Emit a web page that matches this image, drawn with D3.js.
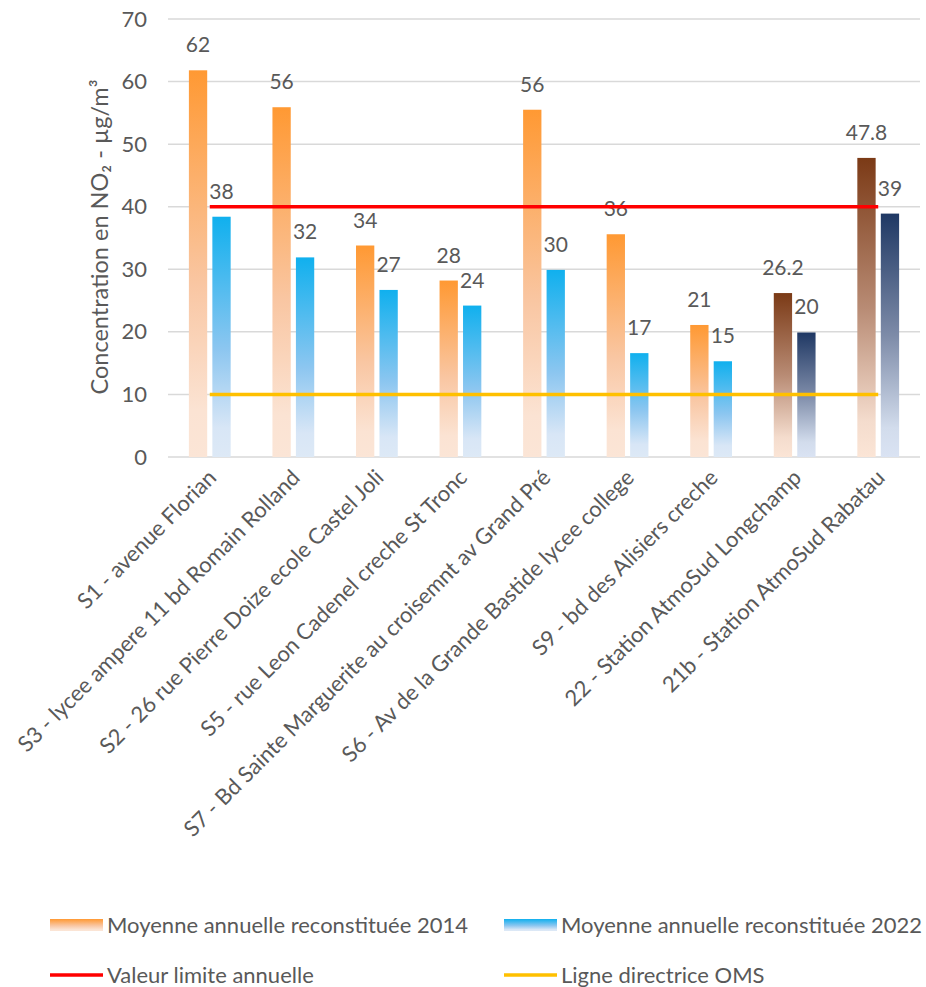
<!DOCTYPE html>
<html><head><meta charset="utf-8">
<script src="https://cdn.jsdelivr.net/npm/d3@7"></script>
<style>body{margin:0;background:#fff}svg{display:block}text{font-family:Lato,"Open Sans",sans-serif;fill:#595959}</style>
</head><body>
<svg id="c" width="926" height="987"></svg>
<script>
const categories = ["S1 - avenue Florian","S3 - lycee ampere 11 bd Romain Rolland","S2 - 26 rue Pierre Doize ecole Castel Joli","S5 - rue Leon Cadenel creche St Tronc","S7 - Bd Sainte Marguerite au croisemnt av Grand Pré","S6 - Av de la Grande Bastide lycee college","S9 - bd des Alisiers creche","22 - Station AtmoSud Longchamp","21b - Station AtmoSud Rabatau"];
const values2014 = [61.8, 55.9, 33.8, 28.2, 55.5, 35.6, 21.1, 26.2, 47.8];
const labels2014 = ["62","56","34","28","56","36","21","26.2","47.8"];
const values2022 = [38.4, 31.9, 26.7, 24.2, 29.9, 16.6, 15.3, 19.9, 38.9];
const labels2022 = ["38","32","27","24","30","17","15","20","39"];
const limitValues = [40,40,40,40,40,40,40,40,40];
const omsValues = [10,10,10,10,10,10,10,10,10];
const yTicks = [0,10,20,30,40,50,60,70];
const seriesNames = ["Moyenne annuelle reconstituée 2014","Moyenne annuelle reconstituée 2022","Valeur limite annuelle","Ligne directrice OMS"];
const stationIdx = [7,8]; // AtmoSud stations, drawn in darker tones

const svg = d3.select("#c");
const L = 168, R = 920, T = 19, B = 457;
const y = d3.scaleLinear().domain([0,70]).range([B,T]);
const x0 = d3.scaleBand().domain(categories).range([L,R]).paddingInner(0.5).paddingOuter(0.25);
const x1 = d3.scaleBand().domain(["2014","2022"]).range([0,x0.bandwidth()]).paddingInner(0.22);

const defs = svg.append("defs");
function grad(id, stops){
  const g = defs.append("linearGradient").attr("id",id).attr("x1",0).attr("y1",0).attr("x2",0).attr("y2",1);
  stops.forEach(s=>g.append("stop").attr("offset",s[0]).attr("stop-color",s[1]));
}
grad("gOr",[[0,"#ff9933"],[0.55,"#f9c6a2"],[0.88,"#fbe3d3"],[1,"#fbe5d6"]]);
grad("gBl",[[0,"#10b0ee"],[0.55,"#8cc6f0"],[0.88,"#d8e6f6"],[1,"#dde9f6"]]);
grad("gBr",[[0,"#7b3a16"],[0.5,"#b88b74"],[0.88,"#f4dccd"],[1,"#fbe5d6"]]);
grad("gNv",[[0,"#1f3864"],[0.5,"#7d8ba8"],[0.88,"#d2dcec"],[1,"#dae3f3"]]);

// gridlines
svg.append("g").selectAll("line").data(yTicks).join("line")
  .attr("x1",L).attr("x2",R).attr("y1",d=>y(d)).attr("y2",d=>y(d))
  .attr("stroke","#d9d9d9").attr("stroke-width",1.5);

// y axis tick labels
const yAxis = d3.axisLeft(y).tickValues(yTicks).tickSize(0).tickPadding(0);
const ga = svg.append("g").attr("transform",`translate(${L-21},0)`).call(yAxis);
ga.select(".domain").remove();
ga.selectAll("text").attr("font-size",22).attr("fill","#595959").attr("font-family","Lato");

// y title
svg.append("text").attr("transform","translate(108,237) rotate(-90)")
  .attr("text-anchor","middle").attr("font-size",23.5)
  .text("Concentration en NO₂ - µg/m³");

// bars
const bars = svg.append("g");
categories.forEach((c,i)=>{
  const st = stationIdx.includes(i);
  [[values2014[i],labels2014[i],"2014",st?"gBr":"gOr"],[values2022[i],labels2022[i],"2022",st?"gNv":"gBl"]].forEach(([v,lab,s,g])=>{
    const bx = x0(c)+x1(s);
    bars.append("rect").attr("x",bx).attr("y",y(v)).attr("width",x1.bandwidth()).attr("height",y(0)-y(v))
      .attr("fill",`url(#${g})`);
    bars.append("text").attr("x",bx+x1.bandwidth()/2).attr("y",y(v)-18)
      .attr("text-anchor","middle").attr("font-size",21).text(lab);
  });
});

// lines
const line = d3.line().x((d,i)=>x0(categories[i])+x0.bandwidth()/2).y(d=>y(d));
svg.append("path").attr("d",line(limitValues)).attr("stroke","#ff0000").attr("stroke-width",3.5).attr("fill","none");
svg.append("path").attr("d",line(omsValues)).attr("stroke","#ffc000").attr("stroke-width",3.5).attr("fill","none");

// x labels
svg.append("g").selectAll("text").data(categories).join("text")
  .attr("transform",d=>`translate(${x0(d)+x0.bandwidth()/2+8},${B+22}) rotate(-45)`)
  .attr("text-anchor","end").attr("font-size",22).text(d=>d);

// legend
const leg = svg.append("g");
const items = [
  {n:seriesNames[0],t:"rect",g:"gOr",x:50,y:925},
  {n:seriesNames[1],t:"rect",g:"gBl",x:504,y:925},
  {n:seriesNames[2],t:"line",c:"#ff0000",x:50,y:975},
  {n:seriesNames[3],t:"line",c:"#ffc000",x:504,y:975}
];
items.forEach(it=>{
  if(it.t==="rect") leg.append("rect").attr("x",it.x).attr("y",it.y-6).attr("width",53).attr("height",12).attr("fill",`url(#${it.g})`);
  else leg.append("line").attr("x1",it.x).attr("x2",it.x+53).attr("y1",it.y).attr("y2",it.y).attr("stroke",it.c).attr("stroke-width",3.5);
  leg.append("text").attr("x",it.x+57).attr("y",it.y).attr("dy","0.35em").attr("font-size",22).text(it.n);
});
</script>
</body></html>
